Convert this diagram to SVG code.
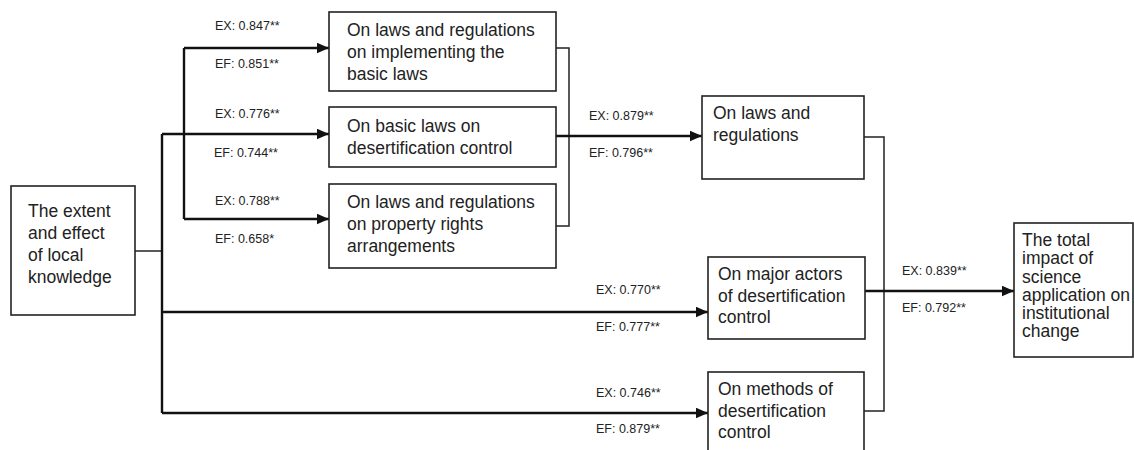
<svg xmlns="http://www.w3.org/2000/svg" width="1134" height="450" viewBox="0 0 1134 450">
  <defs>
    <marker id="arr" markerUnits="userSpaceOnUse" markerWidth="13" markerHeight="12" refX="12.5" refY="5.5" orient="auto">
      <path d="M0,0 L12.5,5.5 L0,11 z" fill="#111"/>
    </marker>
    <style>
      .box { fill: #fff; stroke: #222; stroke-width: 1.6; }
      .t { font-family: "Liberation Sans", Arial, sans-serif; font-size: 17.5px; fill: #222; }
      .lbl { font-family: "Liberation Sans", Arial, sans-serif; font-size: 12.5px; fill: #222; }
      .thin { fill: none; stroke: #222; stroke-width: 1.5; }
      .thick { fill: none; stroke: #111; stroke-width: 2.4; }
      .arrow { fill: none; stroke: #111; stroke-width: 2.4; marker-end: url(#arr); }
    </style>
  </defs>
  <rect width="1134" height="450" fill="#fff"/>

  <g id="connectors">
    <path class="thin" d="M135,251 H162"/>
    <path class="thick" d="M162,134 V413"/>
    <path class="thick" d="M184,48 V219"/>
    <path class="arrow" d="M184,48 H329"/>
    <path class="arrow" d="M162,134 H329"/>
    <path class="arrow" d="M184,219 H329"/>
    <path class="arrow" d="M162,312 H708"/>
    <path class="arrow" d="M162,413 H708"/>
    <path class="thin" d="M556,48 H569 V226 H556"/>
    <path class="arrow" d="M556,136 H702"/>
    <path class="thin" d="M864,137 H884 V411 H864"/>
    <path class="arrow" d="M865,291 H1014"/>
  </g>

  <g id="labels">
    <text class="lbl" x="215" y="30">EX: 0.847**</text>
    <text class="lbl" x="215" y="68">EF: 0.851**</text>
    <text class="lbl" x="215" y="118">EX: 0.776**</text>
    <text class="lbl" x="214" y="157">EF: 0.744**</text>
    <text class="lbl" x="215" y="205">EX: 0.788**</text>
    <text class="lbl" x="215" y="243">EF: 0.658*</text>
    <text class="lbl" x="589" y="120">EX: 0.879**</text>
    <text class="lbl" x="589" y="157">EF: 0.796**</text>
    <text class="lbl" x="596" y="294">EX: 0.770**</text>
    <text class="lbl" x="596" y="331">EF: 0.777**</text>
    <text class="lbl" x="596" y="397">EX: 0.746**</text>
    <text class="lbl" x="596" y="433">EF: 0.879**</text>
    <text class="lbl" x="902" y="275">EX: 0.839**</text>
    <text class="lbl" x="902" y="312">EF: 0.792**</text>
  </g>

  <g id="n_local">
    <rect class="box" x="11" y="186" width="124" height="129"/>
    <text class="t" x="28" y="217">The extent</text>
    <text class="t" x="28" y="239">and effect</text>
    <text class="t" x="28" y="261">of local</text>
    <text class="t" x="28" y="283">knowledge</text>
  </g>

  <g id="n_impl">
    <rect class="box" x="329" y="12" width="227" height="79"/>
    <text class="t" x="347" y="36">On laws and regulations</text>
    <text class="t" x="347" y="58">on implementing the</text>
    <text class="t" x="347" y="80">basic laws</text>
  </g>

  <g id="n_basic">
    <rect class="box" x="329" y="107" width="227" height="60"/>
    <text class="t" x="347" y="132">On basic laws on</text>
    <text class="t" x="347" y="154">desertification control</text>
  </g>

  <g id="n_prop">
    <rect class="box" x="329" y="184" width="227" height="84"/>
    <text class="t" x="347" y="208">On laws and regulations</text>
    <text class="t" x="347" y="230">on property rights</text>
    <text class="t" x="347" y="252">arrangements</text>
  </g>

  <g id="n_laws">
    <rect class="box" x="702" y="96" width="162" height="83"/>
    <text class="t" x="713" y="119">On laws and</text>
    <text class="t" x="713" y="141">regulations</text>
  </g>

  <g id="n_actors">
    <rect class="box" x="708" y="257" width="157" height="82"/>
    <text class="t" x="718" y="280">On major actors</text>
    <text class="t" x="718" y="302">of desertification</text>
    <text class="t" x="718" y="323">control</text>
  </g>

  <g id="n_methods">
    <rect class="box" x="708" y="372" width="156" height="90"/>
    <text class="t" x="718" y="395">On methods of</text>
    <text class="t" x="718" y="417">desertification</text>
    <text class="t" x="718" y="438">control</text>
  </g>

  <g id="n_total">
    <rect class="box" x="1014" y="223" width="119" height="134"/>
    <text class="t" x="1022" y="246">The total</text>
    <text class="t" x="1022" y="264.3">impact of</text>
    <text class="t" x="1022" y="282.5">science</text>
    <text class="t" x="1022" y="300.7">application on</text>
    <text class="t" x="1022" y="319">institutional</text>
    <text class="t" x="1022" y="337">change</text>
  </g>
</svg>
